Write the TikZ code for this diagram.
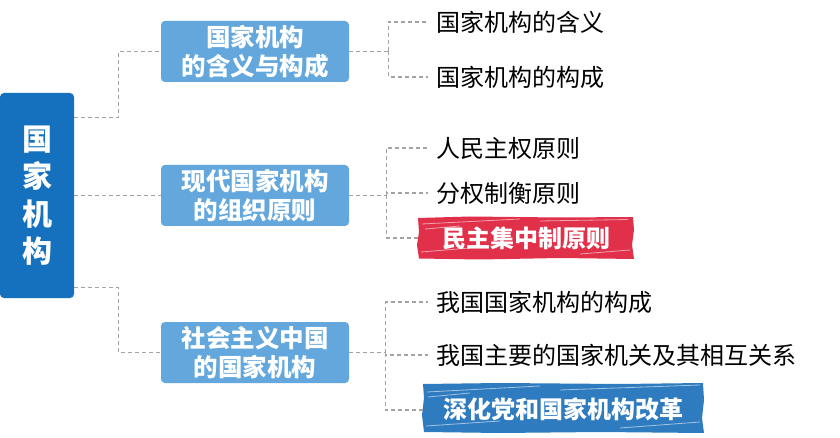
\documentclass[tikz,border=0pt]{standalone}
\usepackage{fontspec}
\newfontfamily\cjk{Noto Sans CJK SC}
\usetikzlibrary{calc}
\definecolor{rootblue}{HTML}{1570BD}
\definecolor{midblue}{HTML}{63A7DC}
\definecolor{brushred}{HTML}{E0304A}
\definecolor{brushblue}{HTML}{2F7BC0}
\definecolor{linegray}{HTML}{A3A3A3}
\tikzset{
  rootbox/.style={fill=rootblue, rounded corners=4pt, minimum width=74pt, minimum height=205pt, inner sep=0pt, text=white, align=center, font=\cjk\bfseries\fontsize{30}{37.5}\selectfont},
  midbox/.style={fill=midblue, rounded corners=4pt, minimum width=188pt, minimum height=61pt, inner sep=0pt, text=white, align=center, font=\cjk\bfseries\fontsize{24.5}{29}\selectfont},
  leaf/.style={anchor=west, inner xsep=8pt, inner ysep=4pt, text=black, font=\cjk\fontsize{24}{28}\selectfont},
  brushbox/.style={inner sep=0pt, text=white, font=\cjk\bfseries\fontsize{24}{28}\selectfont},
  conn/.style={draw=linegray, line width=1.2pt, dash pattern=on 4pt off 3pt},
  streak/.style={draw=white, opacity=0.55, line width=0.8pt}
}
\begin{document}
\begin{tikzpicture}[x=1pt,y=-1pt]
\fill[white] (0,0) rectangle (840,438);

% root
\node[rootbox] (root) at (37,195.5) {国\\家\\机\\构};

% level 2
\node[midbox] (b1) at (255,51.5) {国家机构\\的含义与构成};
\node[midbox] (b2) at (255,195.5) {现代国家机构\\的组织原则};
\node[midbox] (b3) at (255,352.5) {社会主义中国\\的国家机构};

% leaves
\node[leaf] (l11) at (428,22) {国家机构的含义};
\node[leaf] (l12) at (428,77) {国家机构的构成};
\node[leaf] (l21) at (428,148) {人民主权原则};
\node[leaf] (l22) at (428,193) {分权制衡原则};
\node[leaf] (l31) at (428,302) {我国国家机构的构成};
\node[leaf] (l32) at (428,355) {我国主要的国家机关及其相互关系};

% brush boxes
\fill[brushred] (418,218) -- (470,216.5) -- (560,217.5) -- (633,217) -- (634,230) -- (632,245) -- (634,259) -- (560,258) -- (480,259.5) -- (419,258.5) -- (417,245) -- (419,232) -- cycle;
\draw[streak] (422,224) -- (520,219);
\draw[streak] (540,221) -- (628,219.5);
\draw[streak] (421,252) -- (470,248);
\draw[streak] (580,254) -- (630,250);
\draw[streak] (425,229) -- (460,226);
\node[brushbox] (l23) at (526,238) {民主集中制原则};

\fill[brushblue] (423,384) -- (500,383) -- (620,384) -- (703,383) -- (704,400) -- (702,418) -- (704,433) -- (600,432) -- (500,433) -- (424,432) -- (422,415) -- (424,398) -- cycle;
\draw[streak] (427,392) -- (540,386);
\draw[streak] (560,390) -- (700,385);
\draw[streak] (428,397) -- (470,393);
\draw[streak] (426,426) -- (500,421);
\draw[streak] (620,428) -- (700,422);
\node[brushbox] (l33) at (563.5,409) {深化党和国家机构改革};

% connectors from root
\draw[conn] ($(root.north east)+(0,25)$) -- ++(44,0) |- (b1.west);
\draw[conn] (root.east) -- (b2.west);
\draw[conn] ($(root.south east)+(0,-11)$) -- ++(44,0) |- (b3.west);

% connectors b1
\draw[conn] (b1.east) -- ++(39,0) coordinate (j1);
\draw[conn] (j1) |- (l11.west);
\draw[conn] (j1) |- (l12.west);

% connectors b2
\draw[conn] (b2.east) -- ++(37,0) coordinate (j2);
\draw[conn] (j2) |- (l21.west);
\draw[conn] (j2) |- (l22.west);
\draw[conn] (j2) |- (418,238) coordinate (e23);

% connectors b3
\draw[conn] (b3.east) -- ++(36,0) coordinate (j3);
\draw[conn] (j3) |- (l31.west);
\draw[conn] (j3) |- (l32.west);
\draw[conn] (j3) |- (423,410) coordinate (e33);
\end{tikzpicture}
\end{document}
